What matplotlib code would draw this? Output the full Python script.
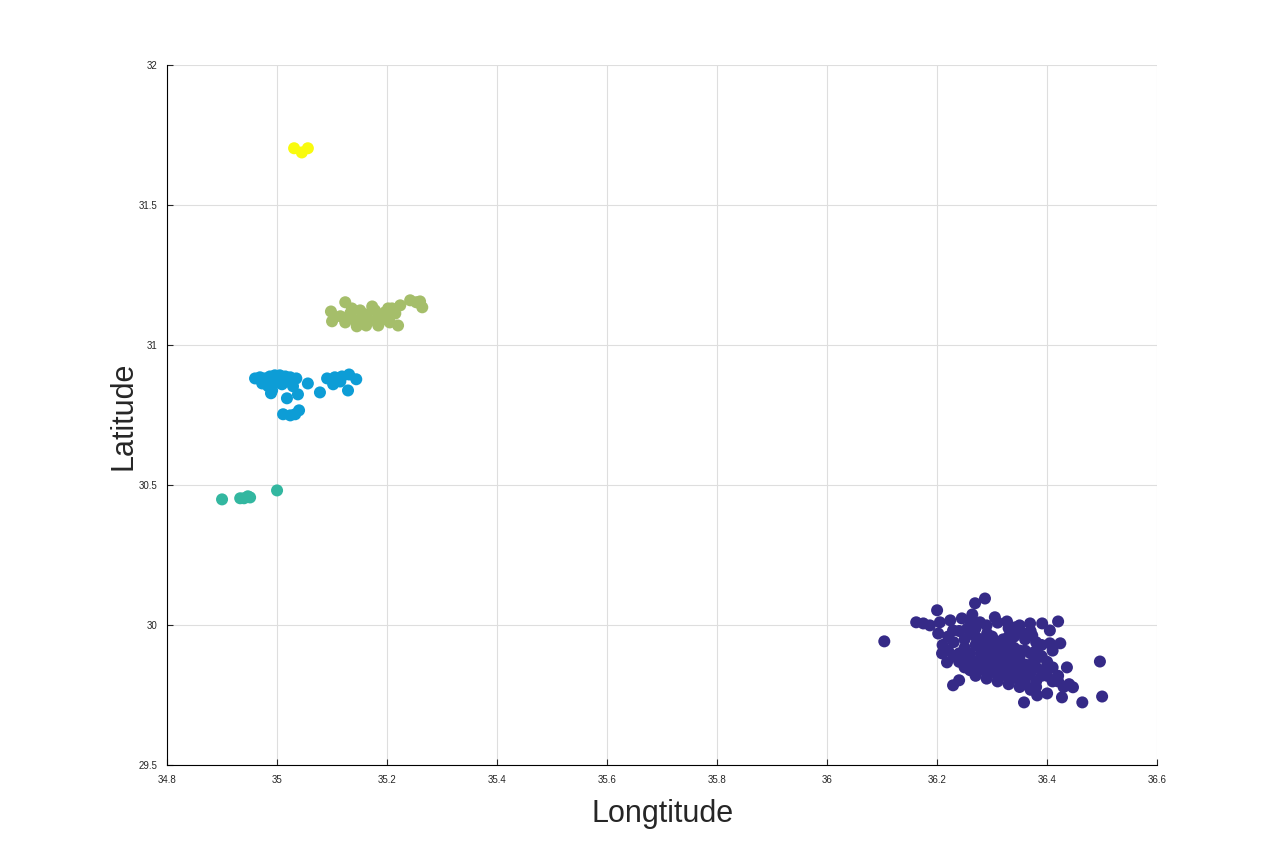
import numpy as np
import matplotlib
matplotlib.use('Agg')
import matplotlib.pyplot as plt

plt.rcParams['font.family'] = ['Liberation Sans', 'DejaVu Sans']

# Cluster 1 (purple)
lon1 = [36.287, 36.269, 36.200, 36.162, 36.175, 36.187, 36.205, 36.224, 36.245, 36.264,
        36.278, 36.305, 36.327, 36.342, 36.369, 36.391, 36.420, 36.405, 36.373, 36.355,
        36.291, 36.255, 36.229, 36.202, 36.405, 36.424, 36.496, 36.436, 36.500, 36.464,
        36.427, 36.447, 36.400, 36.382, 36.358, 36.229, 36.240, 36.209, 36.218, 36.104,
        36.25, 36.27, 36.29, 36.31, 36.33, 36.35, 36.37, 36.39, 36.26, 36.28,
        36.30, 36.32, 36.34, 36.36, 36.38, 36.40, 36.24, 36.26, 36.28, 36.30,
        36.32, 36.34, 36.36, 36.38, 36.41, 36.43, 36.27, 36.29, 36.31, 36.33,
        36.35, 36.37, 36.39, 36.31, 36.33, 36.35, 36.29, 36.27, 36.30, 36.32,
        36.34, 36.36, 36.38, 36.25, 36.23, 36.22, 36.24, 36.21, 36.42, 36.44,
        36.33, 36.35, 36.37, 36.31, 36.40, 36.41, 36.39, 36.37, 36.35, 36.33,
        36.31, 36.29, 36.27, 36.26,
        36.22, 36.23, 36.24, 36.25, 36.26, 36.27, 36.28, 36.29, 36.30, 36.31,
        36.32, 36.33, 36.34, 36.35, 36.36, 36.37, 36.38, 36.39, 36.40, 36.41,
        36.42, 36.25, 36.27, 36.29, 36.31, 36.33, 36.35, 36.36, 36.38, 36.30,
        36.32, 36.34, 36.36, 36.38, 36.28, 36.26, 36.33, 36.36, 36.31, 36.29]
lat1 = [30.096, 30.079, 30.054, 30.011, 30.007, 30.000, 30.011, 30.018, 30.025, 30.039,
        30.011, 30.029, 30.014, 29.993, 30.007, 30.007, 30.014, 29.982, 29.964, 29.971,
        29.971, 29.989, 29.982, 29.971, 29.936, 29.936, 29.871, 29.850, 29.746, 29.725,
        29.743, 29.779, 29.757, 29.750, 29.725, 29.786, 29.804, 29.900, 29.868, 29.943,
        29.95, 29.93, 29.94, 29.92, 29.93, 29.91, 29.90, 29.89, 29.90, 29.89,
        29.88, 29.87, 29.88, 29.86, 29.85, 29.84, 29.87, 29.86, 29.85, 29.84,
        29.83, 29.82, 29.81, 29.80, 29.80, 29.78, 29.82, 29.81, 29.85, 29.86,
        29.84, 29.83, 29.82, 29.90, 29.90, 29.89, 29.91, 29.96, 29.96, 29.95,
        29.96, 29.95, 29.94, 29.92, 29.94, 29.96, 29.98, 29.93, 29.82, 29.79,
        29.79, 29.78, 29.77, 29.80, 29.87, 29.91, 29.93, 29.98, 30.00, 29.99,
        30.01, 30.00, 29.99, 30.02,
        29.91, 29.89, 29.90, 29.88, 29.84, 29.87, 29.91, 29.86, 29.90, 29.87,
        29.89, 29.84, 29.85, 29.87, 29.83, 29.86, 29.88, 29.84, 29.82, 29.85,
        29.80, 29.85, 29.84, 29.83, 29.82, 29.81, 29.80, 29.79, 29.78, 29.92,
        29.93, 29.92, 29.91, 29.91, 29.95, 29.97, 29.96, 29.97, 29.94, 29.88]

# Cluster 2 (blue)
lon2 = [34.960, 34.969, 34.978, 34.987, 34.996, 35.005, 35.015, 35.024, 35.035, 34.973,
        34.984, 34.991, 34.998, 35.009, 35.020, 35.029, 35.038, 35.018, 35.056, 35.078,
        34.989, 35.004, 35.013, 35.027, 35.011, 35.024, 35.033, 35.040, 35.091, 35.105,
        35.118, 35.131, 35.144, 35.102, 35.115, 35.129, 35.109]
lat2 = [30.882, 30.886, 30.882, 30.889, 30.893, 30.893, 30.889, 30.886, 30.882, 30.864,
        30.854, 30.839, 30.868, 30.861, 30.875, 30.854, 30.825, 30.811, 30.864, 30.832,
        30.829, 30.882, 30.875, 30.868, 30.754, 30.750, 30.754, 30.768, 30.882, 30.886,
        30.889, 30.896, 30.879, 30.861, 30.871, 30.839, 30.875]

# Cluster 3 (teal)
lon3 = [34.900, 34.933, 34.940, 34.947, 34.951, 35.000]
lat3 = [30.450, 30.454, 30.454, 30.461, 30.457, 30.482]

# Cluster 4 (green)
lon4 = [35.098, 35.100, 35.124, 35.115, 35.133, 35.142, 35.151, 35.160, 35.169, 35.178,
        35.187, 35.196, 35.205, 35.215, 35.220, 35.145, 35.124, 35.162, 35.184, 35.198,
        35.173, 35.209, 35.224, 35.242, 35.253, 35.260, 35.264, 35.202, 35.136, 35.155]
lat4 = [31.121, 31.086, 31.154, 31.104, 31.114, 31.089, 31.125, 31.111, 31.089, 31.125,
        31.104, 31.118, 31.082, 31.114, 31.071, 31.068, 31.082, 31.071, 31.071, 31.093,
        31.139, 31.132, 31.143, 31.161, 31.154, 31.157, 31.136, 31.132, 31.132, 31.096]

# Cluster 5 (yellow)
lon5 = [35.031, 35.045, 35.056]
lat5 = [31.704, 31.689, 31.704]

colors = ['#352a87', '#0d9dd6', '#33b7a0', '#a5be6a', '#f9fb0e']
clusters = [(lon1, lat1), (lon2, lat2), (lon3, lat3), (lon4, lat4), (lon5, lat5)]

fig = plt.figure(figsize=(12.8, 8.6), dpi=100)
ax = fig.add_axes([0.1305, 0.110, 0.7735, 0.814])

for (lo, la), c in zip(clusters, colors):
    ax.scatter(lo, la, s=75, c=c, edgecolors='none', zorder=3)

ax.set_xlim(34.8, 36.6)
ax.set_ylim(29.5, 32)
ax.set_xticks(np.arange(34.8, 36.61, 0.2))
ax.set_xticklabels(['34.8', '35', '35.2', '35.4', '35.6', '35.8', '36', '36.2', '36.4', '36.6'])
ax.set_yticks([29.5, 30, 30.5, 31, 31.5, 32])
ax.set_yticklabels(['29.5', '30', '30.5', '31', '31.5', '32'])
ax.grid(True, color='#dedede', linewidth=0.8)
ax.set_axisbelow(True)
ax.spines['top'].set_visible(False)
ax.spines['right'].set_visible(False)
ax.tick_params(direction='in', length=4, labelsize=7, colors='#262626', pad=7)
ax.set_xlabel('Longtitude', fontsize=22, color='#262626', labelpad=10)
ax.set_ylabel('Latitude', fontsize=22, color='#262626', labelpad=0)

fig.savefig('out.png', dpi=100)
